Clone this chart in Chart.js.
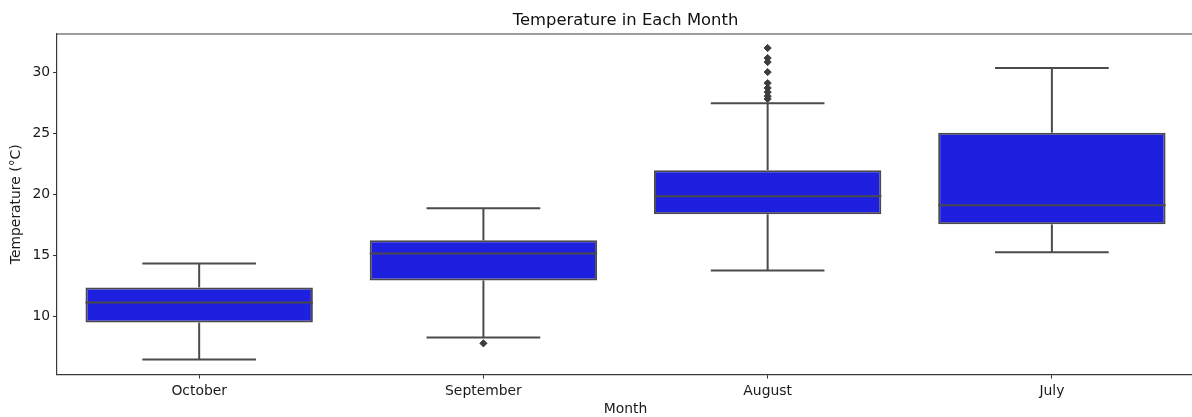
<!DOCTYPE html>
<html>
<head>
<meta charset="utf-8">
<script src="https://cdn.jsdelivr.net/npm/chart.js@4.4.1/dist/chart.umd.min.js"></script>
<style>
  html, body { margin: 0; padding: 0; overflow: hidden; background: #fff; }
  #wrap { width: 1200px; height: 417px; }
</style>
</head>
<body>
<div id="wrap"><canvas id="c" width="1200" height="417" style="width:1200px;height:417px"></canvas></div>
<script>
const categories = ['October', 'September', 'August', 'July'];
const whiskerLow  = [6.48, 8.28, 13.77, 15.25];
const q1          = [9.50, 12.95, 18.36, 17.54];
const median      = [11.15, 15.16, 19.84, 19.10];
const q3          = [12.38, 16.23, 21.97, 25.04];
const whiskerHigh = [14.34, 18.85, 27.46, 30.33];
const outlierMonth = ['September', 'August', 'August', 'August', 'August', 'August', 'August', 'August', 'August', 'August'];
const outlierTemp  = [7.80, 31.97, 31.15, 30.82, 30.00, 29.10, 28.70, 28.36, 28.03, 27.80];
const yTicks = [10, 15, 20, 25, 30];
const yMin = 5.25, yMax = 33.12;

const lineColor = '#4b4b4b';
const boxFill = '#1f1fdf';
const FONT = "'DejaVu Sans', sans-serif";

const boxPlugin = {
  id: 'boxParts',
  afterDatasetsDraw(chart) {
    const ctx = chart.ctx;
    const x = chart.scales.x, y = chart.scales.y;
    const meta = chart.getDatasetMeta(0);
    ctx.save();
    ctx.strokeStyle = lineColor;
    ctx.lineWidth = 2;
    ctx.lineCap = 'butt';
    categories.forEach((c, i) => {
      const bar = meta.data[i];
      const half = bar.width / 2;
      const cx = x.getPixelForValue(i);
      const capHalf = half / 2;
      const line = (x1, y1, x2, y2) => { ctx.beginPath(); ctx.moveTo(x1, y1); ctx.lineTo(x2, y2); ctx.stroke(); };
      line(cx, y.getPixelForValue(q3[i]), cx, y.getPixelForValue(whiskerHigh[i]));
      line(cx, y.getPixelForValue(q1[i]), cx, y.getPixelForValue(whiskerLow[i]));
      line(cx - capHalf, y.getPixelForValue(whiskerHigh[i]), cx + capHalf, y.getPixelForValue(whiskerHigh[i]));
      line(cx - capHalf, y.getPixelForValue(whiskerLow[i]), cx + capHalf, y.getPixelForValue(whiskerLow[i]));
      line(cx - half, y.getPixelForValue(median[i]), cx + half, y.getPixelForValue(median[i]));
    });
    ctx.restore();
  }
};

const framePlugin = {
  id: 'frame',
  afterDraw(chart) {
    const a = chart.chartArea, ctx = chart.ctx;
    ctx.save();
    ctx.strokeStyle = '#3a3a3a';
    ctx.lineWidth = 1.2;
    ctx.beginPath();
    ctx.moveTo(a.left, a.top);
    ctx.lineTo(a.right, a.top);
    ctx.stroke();
    ctx.restore();
  }
};

new Chart(document.getElementById('c'), {
  type: 'bar',
  data: {
    labels: categories,
    datasets: [
      {
        label: 'box',
        data: q1.map((v, i) => [v, q3[i]]),
        backgroundColor: boxFill,
        borderColor: lineColor,
        borderWidth: 2,
        borderSkipped: false,
        barPercentage: 0.8,
        categoryPercentage: 1.0,
        order: 2
      },
      {
        type: 'line',
        label: 'outliers',
        data: outlierMonth.map((m, i) => ({ x: m, y: outlierTemp[i] })),
        showLine: false,
        pointStyle: 'rectRot',
        pointRadius: 3.6,
        pointBackgroundColor: '#3d3d3d',
        pointBorderColor: '#3d3d3d',
        pointBorderWidth: 1,
        order: 1
      }
    ]
  },
  options: {
    responsive: false,
    animation: false,
    devicePixelRatio: 1,
    layout: { padding: { left: 4.2, right: 6, top: 0, bottom: -0.5 } },
    plugins: {
      legend: { display: false },
      tooltip: { enabled: false },
      title: {
        display: true,
        text: 'Temperature in Each Month',
        fullSize: false,
        color: '#111',
        font: { family: FONT, size: 16.4, weight: 'normal' },
        padding: { top: 11, bottom: 3.3 }
      }
    },
    scales: {
      x: {
        offset: true,
        grid: { display: true, offset: false, drawOnChartArea: false, drawTicks: true, tickLength: 4, tickColor: '#333', lineWidth: 1 },
        border: { display: true, color: '#3a3a3a', width: 1.2 },
        ticks: { color: '#1a1a1a', font: { family: FONT, size: 13.9, lineHeight: 1.0 }, padding: 5.5, maxRotation: 0 },
        title: { display: true, text: 'Month', color: '#1a1a1a', font: { family: FONT, size: 13.9, lineHeight: 1.0 }, padding: { top: -0.9, bottom: 1.1 } }
      },
      y: {
        min: yMin,
        max: yMax,
        afterBuildTicks: (axis) => { axis.ticks = yTicks.map(v => ({ value: v })); },
        grid: { display: true, drawOnChartArea: false, drawTicks: true, tickLength: 4, tickColor: '#333', lineWidth: 1 },
        border: { display: true, color: '#3a3a3a', width: 1.2 },
        ticks: { color: '#1a1a1a', font: { family: FONT, size: 13.9 }, padding: 3 },
        title: { display: true, text: 'Temperature (°C)', color: '#1a1a1a', font: { family: FONT, size: 13.9 }, padding: { top: 4.25, bottom: 4.25 } }
      }
    }
  },
  plugins: [boxPlugin, framePlugin]
});
</script>
</body>
</html>
